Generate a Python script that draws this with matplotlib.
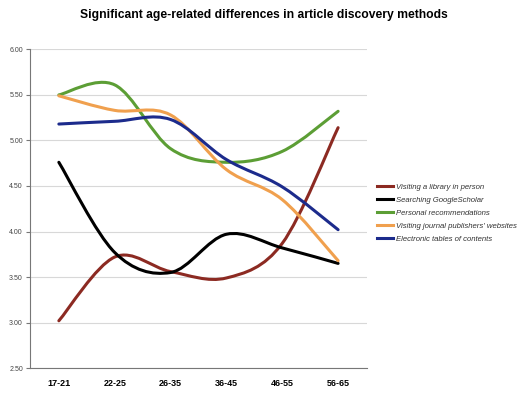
import numpy as np
import matplotlib
matplotlib.use("Agg")
import matplotlib.pyplot as plt
from matplotlib.path import Path
from matplotlib.patches import PathPatch
from matplotlib.lines import Line2D

# datos
grupos = ["17-21", "22-25", "26-35", "36-45", "46-55", "56-65"]
biblioteca = [3.02, 3.72, 3.56, 3.49, 3.87, 5.14]
google_scholar = [4.76, 3.77, 3.55, 3.97, 3.82, 3.65]
recomendaciones = [5.50, 5.61, 4.91, 4.76, 4.88, 5.32]
editoriales = [5.49, 5.33, 5.28, 4.68, 4.35, 3.68]
tablas_contenido = [5.18, 5.21, 5.23, 4.79, 4.49, 4.02]

series = [
    ("Visiting a library in person", biblioteca, "#8c2a22"),
    ("Searching GoogleScholar", google_scholar, "#000000"),
    ("Personal recommendations", recomendaciones, "#5c9e35"),
    ("Visiting journal publishers' websites", editoriales, "#f0a04e"),
    ("Electronic tables of contents", tablas_contenido, "#1c2b8c"),
]


def curva_suave(xs, ys):
    """Bezier tipo Catmull-Rom que pasa por todos los puntos (como Excel)"""
    pts = np.column_stack([xs, ys]).astype(float)
    ext = np.vstack([pts[0], pts, pts[-1]])
    verts = [pts[0]]
    codes = [Path.MOVETO]
    for i in range(len(pts) - 1):
        p0, p1, p2, p3 = ext[i], ext[i + 1], ext[i + 2], ext[i + 3]
        c1 = p1 + (p2 - p0) / 6.0
        c2 = p2 - (p3 - p1) / 6.0
        verts += [c1, c2, p2]
        codes += [Path.CURVE4] * 3
    return Path(verts, codes)


fig = plt.figure(figsize=(5.23, 3.98), dpi=100)
ax = fig.add_axes([0.057, 0.075, 0.645, 0.801])

x = np.arange(len(grupos))
handles = []
for nombre, valores, color in series:
    patch = PathPatch(curva_suave(x, valores), facecolor="none",
                      edgecolor=color, lw=2.2, capstyle="round", zorder=3)
    ax.add_patch(patch)
    handles.append(Line2D([], [], color=color, lw=2.2, label=nombre))

ax.set_xlim(-0.52, len(grupos) - 0.48)
ax.set_ylim(2.5, 6.0)
ax.set_yticks(np.arange(2.5, 6.01, 0.5))
ax.set_yticklabels([f"{v:.2f}" for v in np.arange(2.5, 6.01, 0.5)],
                   fontsize=5, color="#444444", family="Liberation Sans")
ax.set_xticks(x)
ax.set_xticklabels(grupos, fontsize=6.5, fontweight="bold",
                   family="Liberation Sans")
ax.grid(axis="y", color="#d8d8d8", lw=0.8)
ax.set_axisbelow(True)
for lado in ["top", "right"]:
    ax.spines[lado].set_visible(False)
ax.spines["left"].set_color("#777777")
ax.spines["bottom"].set_color("#777777")
ax.tick_params(axis="y", length=3, color="#777777", pad=2)
ax.tick_params(axis="x", length=0, pad=8)

fig.text(0.505, 0.962, "Significant age-related differences in article discovery methods",
         ha="center", va="center", fontsize=8.7, fontweight="bold",
         family="Liberation Sans")

leyenda = fig.legend(handles=handles, loc="center left",
                     bbox_to_anchor=(0.708, 0.465), frameon=False,
                     prop={"size": 5.6, "style": "italic", "family": "Liberation Sans"},
                     handlelength=2.0, handletextpad=0.4, labelspacing=0.72)
for t in leyenda.get_texts():
    t.set_color("#333333")

fig.savefig("out.png", dpi=100)
